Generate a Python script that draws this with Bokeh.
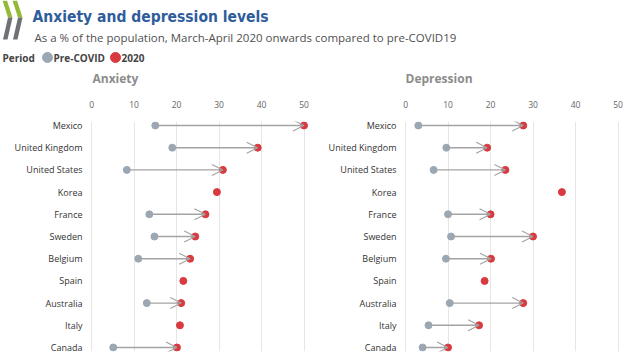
from bokeh.plotting import figure
from bokeh.models import Range1d, FixedTicker, ColumnDataSource, Arrow, OpenHead
from bokeh.layouts import column, row
from bokeh.embed import file_html
from bokeh.resources import INLINE
from bokeh.core.properties import value

# ---------------- data ----------------
countries = ["Mexico", "United Kingdom", "United States", "Korea", "France", "Sweden",
             "Belgium", "Spain", "Australia", "Italy", "Canada"]
anxiety_pre = [15, 19, 8.3, None, 13.6, 14.8, 11, None, 13, None, 5.1]
anxiety_2020 = [50, 39.1, 30.9, 29.5, 26.8, 24.4, 23.2, 21.6, 21.1, 20.8, 20.1]
depression_pre = [3, 9.6, 6.6, None, 10, 10.7, 9.5, None, 10.4, 5.4, 4]
depression_2020 = [27.7, 19.2, 23.5, 36.8, 20, 30, 20.1, 18.6, 27.7, 17.3, 10]
x_ticks = [0, 10, 20, 30, 40, 50]

title_text = "Anxiety and depression levels"
subtitle_text = "As a % of the population, March-April 2020 onwards compared to pre-COVID19"
legend_title = "Period"
series_names = ["Pre-COVID", "2020"]
panel_names = ["Anxiety", "Depression"]

PRE_COLOR = "#9AA8B5"
POST_COLOR = "#D93A3F"
ARROW_COLOR = "#A3A3A3"
FONT = "Open Sans"

# ---------------- header ----------------
HW, HH = 630, 95
header = figure(width=HW, height=HH, x_range=Range1d(0, HW), y_range=Range1d(HH, 0),
                output_backend="svg", toolbar_location=None, min_border=0)
header.axis.visible = False
header.grid.visible = False
header.outline_line_color = None

# logo (decoration)
for dx in (0, 10):
    header.patch([2 + dx, 6.5 + dx, 12 + dx, 7.5 + dx], [0, 0, 17, 17], color="#93BA36", line_width=0)
    header.patch([7.5 + dx, 12 + dx, 7 + dx, 2.5 + dx], [17, 17, 39, 39], color="#6F7175", line_width=0)

header.text([32], [16], text=[title_text], text_font=value("DejaVu Sans Condensed"),
            text_font_style="bold", text_font_size="15.5px", text_color="#2F5D9B",
            text_baseline="middle")
header.text([34], [37], text=[subtitle_text], text_font=value(FONT),
            text_font_size="11.5px", text_color="#505050", text_baseline="middle")
header.text([2], [57], text=[legend_title], text_font=value(FONT), text_font_style="bold",
            text_font_size="10px", text_color="#444444", text_baseline="middle")
header.scatter([47], [57], size=10, color=PRE_COLOR)
header.text([53], [57], text=[series_names[0]], text_font=value(FONT), text_font_style="bold",
            text_font_size="10px", text_color="#444444", text_baseline="middle")
header.scatter([115], [57], size=10, color=POST_COLOR)
header.text([121], [57], text=[series_names[1]], text_font=value(FONT), text_font_style="bold",
            text_font_size="10px", text_color="#444444", text_baseline="middle")
header.text([92, 405], [78, 78], text=panel_names, text_font=value(FONT), text_font_style="bold",
            text_font_size="12px", text_color="#8C8C8C", text_baseline="middle")


# ---------------- panels ----------------
def make_panel(pre, post, border_left, border_right):
    n = len(countries)
    ys = list(range(n))
    p = figure(width=315, height=260, x_range=Range1d(-1.9, 52), y_range=Range1d(10.18, -0.18),
               x_axis_location="above", output_backend="svg", toolbar_location=None,
               min_border_left=border_left, min_border_right=border_right,
               min_border_top=26, min_border_bottom=4)
    p.outline_line_color = None
    p.ygrid.visible = False
    p.xgrid.grid_line_color = "#E6E6E6"
    p.xgrid.ticker = FixedTicker(ticks=x_ticks)
    p.xaxis.ticker = FixedTicker(ticks=x_ticks)
    p.yaxis.ticker = FixedTicker(ticks=ys)
    p.yaxis.major_label_overrides = {i: c for i, c in enumerate(countries)}
    for ax in (p.xaxis[0], p.yaxis[0]):
        ax.axis_line_color = None
        ax.major_tick_line_color = None
        ax.minor_tick_line_color = None
        ax.major_label_text_font = FONT
    p.xaxis.major_label_text_font_size = "8.5px"
    p.xaxis.major_label_text_color = "#666666"
    p.xaxis.major_label_standoff = 8
    p.yaxis.major_label_text_font_size = "9px"
    p.yaxis.major_label_text_color = "#333333"
    p.yaxis.major_label_standoff = -5

    idx = [i for i in range(n) if pre[i] is not None]
    arr_src = ColumnDataSource(dict(x0=[pre[i] for i in idx], x1=[post[i] for i in idx],
                                    y=[ys[i] for i in idx]))
    p.add_layout(Arrow(end=OpenHead(size=11, line_color=ARROW_COLOR, line_width=1.1),
                       x_start="x0", y_start="y", x_end="x1", y_end="y",
                       line_color=ARROW_COLOR, line_width=1.4, source=arr_src))
    p.scatter([pre[i] for i in idx], [ys[i] for i in idx], size=7, color=PRE_COLOR)
    p.scatter(post, ys, size=7, color=POST_COLOR)
    return p


p1 = make_panel(anxiety_pre, anxiety_2020, 83, 3)
p2 = make_panel(depression_pre, depression_2020, 82, 4)

layout = column(header, row(p1, p2, spacing=0), spacing=0)
open("out.html", "w").write(file_html(layout, INLINE))
